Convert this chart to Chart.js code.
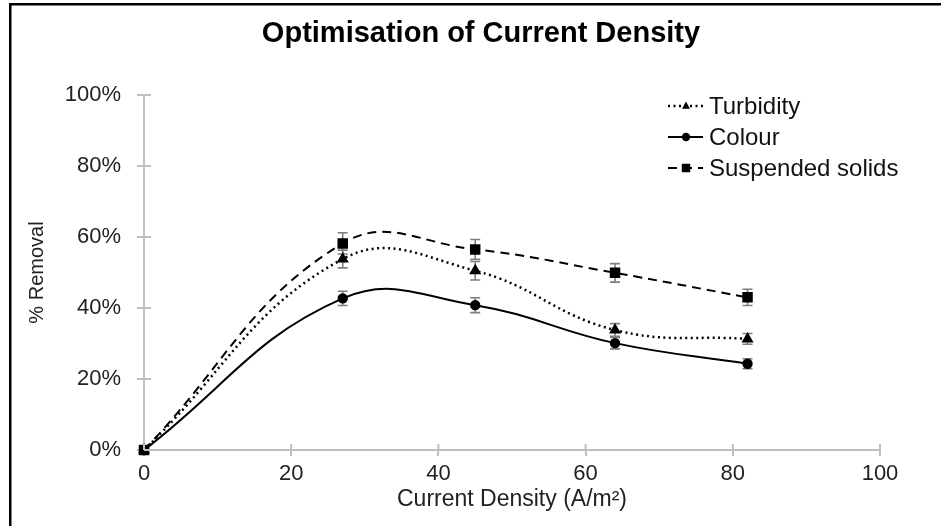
<!DOCTYPE html>
<html>
<head>
<meta charset="utf-8">
<script src="https://cdn.jsdelivr.net/npm/chart.js@4.4.0/dist/chart.umd.min.js"></script>
<style>
  html, body { margin: 0; padding: 0; background: #fff; }
  #wrap { width: 941px; height: 526px; }
</style>
</head>
<body>
<div id="wrap"><canvas id="myChart" width="941" height="526"></canvas></div>
<script>
// values (percent removal)
const densities = [0, 27, 45, 64, 82];
const turbidity = [0, 53.8, 50.5, 33.8, 31.3];
const colour = [0, 42.7, 40.8, 30.1, 24.3];
const suspended = [0, 58.2, 56.5, 49.9, 43.0];
const turbidityErr = [0, 2.5, 2.6, 1.8, 1.5];
const colourErr = [0, 2.0, 2.1, 1.6, 1.4];
const suspendedErr = [0, 3.0, 2.8, 2.6, 2.3];
const seriesNames = ["Turbidity", "Colour", "Suspended solids"];
const xTicks = [0, 20, 40, 60, 80, 100];
const yTicks = [0, 20, 40, 60, 80, 100];
const chartTitle = "Optimisation of Current Density";

const FONT = "'Liberation Sans', Arial, sans-serif";
const AXIS_GREY = "#bfbfbf";

const toPoints = (vals) => densities.map((d, i) => ({ x: d, y: vals[i] }));

function drawMarker(ctx, style, x, y, r) {
  ctx.beginPath();
  if (style === "circle") {
    ctx.arc(x, y, r, 0, Math.PI * 2);
  } else if (style === "rect") {
    const s = r * Math.SQRT1_2;
    ctx.rect(x - s, y - s, s * 2, s * 2);
  } else if (style === "triangle") {
    ctx.moveTo(x, y - r);
    ctx.lineTo(x + r * 0.87, y + r * 0.6);
    ctx.lineTo(x - r * 0.87, y + r * 0.6);
    ctx.closePath();
  }
  ctx.fill();
}

// page frame (top and left rule only, like the cropped original) + title
const framePlugin = {
  id: "frame",
  beforeDraw(chart) {
    const ctx = chart.ctx;
    ctx.save();
    ctx.fillStyle = "#fff";
    ctx.fillRect(0, 0, chart.width, chart.height);
    ctx.fillStyle = "#000";
    ctx.fillRect(9, 3, chart.width - 9, 2.5);
    ctx.fillRect(9, 3, 2.5, chart.height - 3);
    ctx.font = "bold 29px " + FONT;
    ctx.textAlign = "center";
    ctx.textBaseline = "middle";
    ctx.fillText(chartTitle, 481, 34);
    ctx.restore();
  }
};

// tick marks that cross the axis line
const crossTicks = {
  id: "crossTicks",
  afterDraw(chart) {
    const ctx = chart.ctx;
    const xs = chart.scales.x, ys = chart.scales.y;
    ctx.save();
    ctx.strokeStyle = AXIS_GREY;
    ctx.lineWidth = 2;
    ctx.beginPath();
    yTicks.forEach(v => {
      const py = ys.getPixelForValue(v);
      ctx.moveTo(xs.left, py);
      ctx.lineTo(xs.left + 7, py);
    });
    xTicks.forEach(v => {
      const px = xs.getPixelForValue(v);
      ctx.moveTo(px, ys.bottom);
      ctx.lineTo(px, ys.bottom - 6);
    });
    ctx.stroke();
    ctx.restore();
  }
};

const errorBars = {
  id: "errorBars",
  beforeDatasetsDraw(chart) {
    const ctx = chart.ctx;
    const xs = chart.scales.x, ys = chart.scales.y;
    ctx.save();
    ctx.strokeStyle = "#7f7f7f";
    ctx.lineWidth = 1.6;
    chart.data.datasets.forEach(ds => {
      ds.data.forEach((p, i) => {
        const e = ds.errors[i];
        if (!e) return;
        const px = xs.getPixelForValue(p.x);
        const top = ys.getPixelForValue(p.y + e);
        const bot = ys.getPixelForValue(p.y - e);
        ctx.beginPath();
        ctx.moveTo(px, top); ctx.lineTo(px, bot);
        ctx.moveTo(px - 5, top); ctx.lineTo(px + 5, top);
        ctx.moveTo(px - 5, bot); ctx.lineTo(px + 5, bot);
        ctx.stroke();
      });
    });
    ctx.restore();
  }
};

const sideLegend = {
  id: "sideLegend",
  afterDraw(chart) {
    const ctx = chart.ctx;
    ctx.save();
    ctx.font = "24px " + FONT;
    ctx.textBaseline = "middle";
    chart.data.datasets.forEach((ds, i) => {
      const y = 106 + i * 31;
      ctx.strokeStyle = "#000";
      ctx.lineWidth = ds.borderWidth;
      ctx.setLineDash(ds.borderDash || []);
      ctx.beginPath();
      ctx.moveTo(668, y);
      ctx.lineTo(703, y);
      ctx.stroke();
      ctx.setLineDash([]);
      ctx.fillStyle = "#000";
      drawMarker(ctx, ds.pointStyle, 686, y, ds.pointRadius);
      ctx.fillStyle = "#111";
      ctx.fillText(ds.label, 709, y + 1);
    });
    ctx.restore();
  }
};

const ctx = document.getElementById("myChart");
new Chart(ctx, {
  type: "line",
  data: {
    datasets: [
      {
        label: seriesNames[0],
        data: toPoints(turbidity),
        errors: turbidityErr,
        borderColor: "#000",
        backgroundColor: "#000",
        borderWidth: 2.5,
        borderDash: [2, 3.5],
        pointStyle: "triangle",
        pointRadius: 4.5,
        tension: 0.42,
        clip: false
      },
      {
        label: seriesNames[1],
        data: toPoints(colour),
        errors: colourErr,
        borderColor: "#000",
        backgroundColor: "#000",
        borderWidth: 2,
        pointStyle: "circle",
        pointRadius: 4.2,
        tension: 0.42,
        clip: false
      },
      {
        label: seriesNames[2],
        data: toPoints(suspended),
        errors: suspendedErr,
        borderColor: "#000",
        backgroundColor: "#000",
        borderWidth: 2,
        borderDash: [9, 6],
        pointStyle: "rect",
        pointRadius: 6,
        tension: 0.42,
        clip: false
      }
    ]
  },
  options: {
    responsive: false,
    animation: false,
    layout: { padding: { left: 21, right: 61, top: 95, bottom: 10 } },
    plugins: {
      legend: { display: false },
      tooltip: { enabled: false },
      title: { display: false }
    },
    scales: {
      x: {
        type: "linear",
        min: 0,
        max: 100,
        afterFit: (s) => { s.height = 66; },
        afterBuildTicks: (s) => { s.ticks = xTicks.map(v => ({ value: v })); },
        ticks: { color: "#222", font: { family: FONT, size: 22 }, padding: 5 },
        grid: { drawOnChartArea: false, drawTicks: true, tickLength: 6, color: AXIS_GREY, lineWidth: 2 },
        border: { color: AXIS_GREY, width: 2 },
        title: {
          display: true,
          text: "Current Density (A/m²)",
          color: "#222",
          font: { family: FONT, size: 23 },
          padding: { top: 4, bottom: 3 }
        }
      },
      y: {
        min: 0,
        max: 100,
        afterFit: (s) => { s.width = 123; },
        afterBuildTicks: (s) => { s.ticks = yTicks.map(v => ({ value: v })); },
        ticks: {
          color: "#222",
          font: { family: FONT, size: 22 },
          padding: 16,
          callback: (v) => v + "%"
        },
        grid: { drawOnChartArea: false, drawTicks: true, tickLength: 7, color: AXIS_GREY, lineWidth: 2 },
        border: { color: AXIS_GREY, width: 2 },
        title: {
          display: true,
          text: "% Removal",
          color: "#222",
          font: { family: FONT, size: 20 },
          padding: { top: 4, bottom: 4 }
        }
      }
    }
  },
  plugins: [framePlugin, errorBars, crossTicks, sideLegend]
});
</script>
</body>
</html>
